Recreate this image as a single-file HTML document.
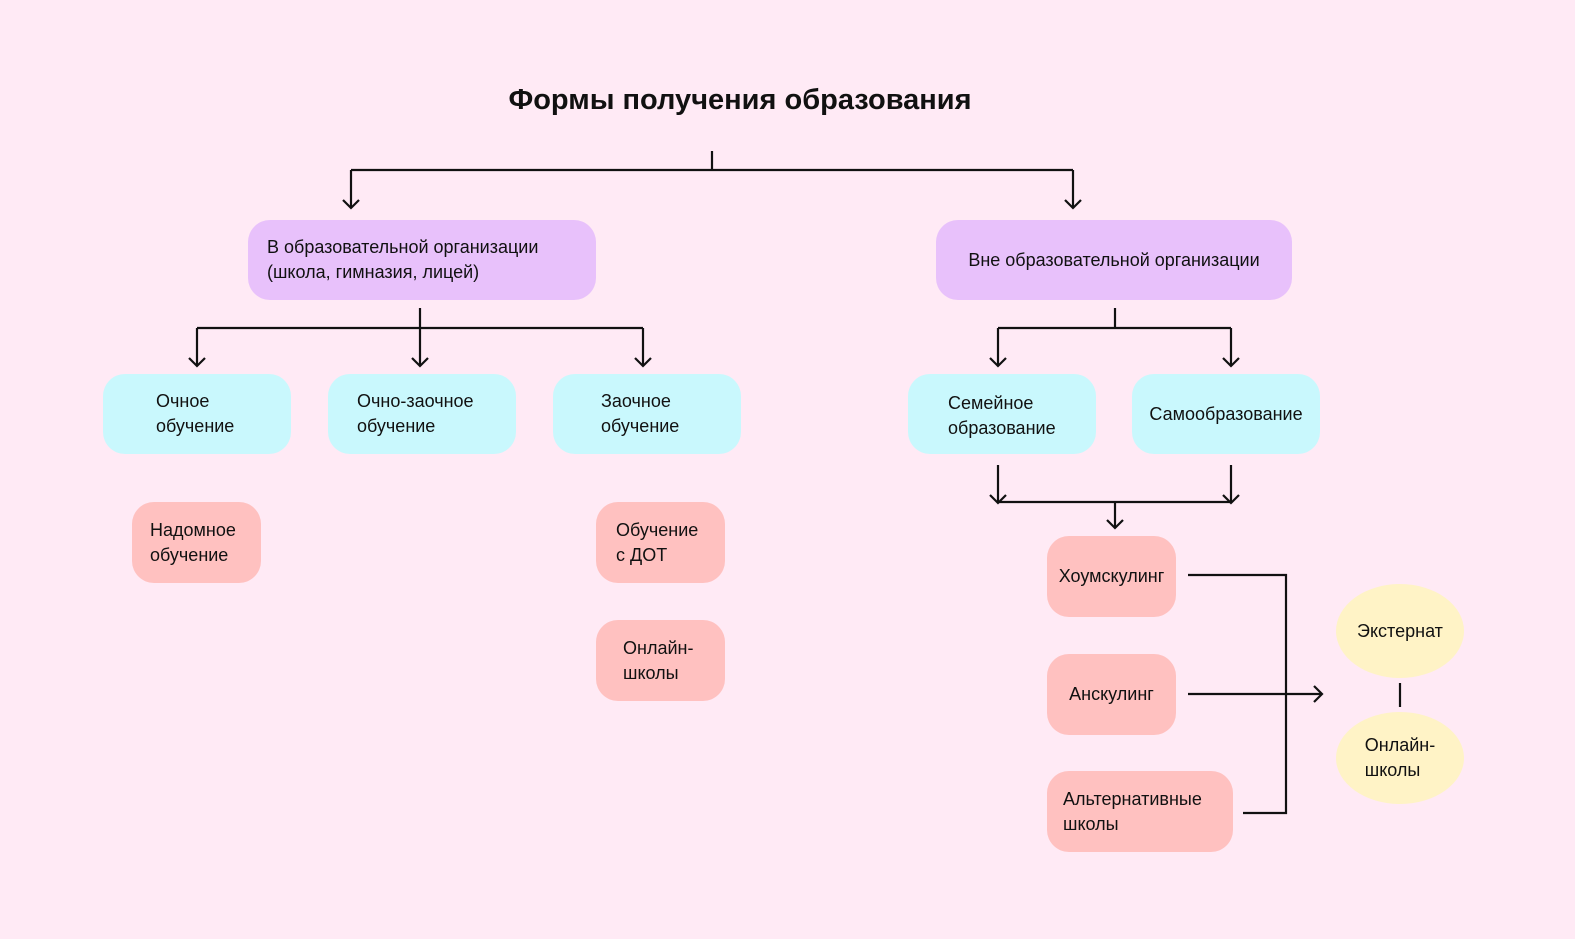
<!DOCTYPE html>
<html><head><meta charset="utf-8"><style>
body{margin:0;width:1575px;height:939px;background:#ffeaf5;position:relative;overflow:hidden;font-family:"Liberation Sans","DejaVu Sans",sans-serif;color:#111}
.b{position:absolute;border-radius:22px;font-size:18px;line-height:25px;box-sizing:border-box;display:flex;align-items:center}
.p{background:#e8c1fb}.c{background:#c9f8fd}.r{background:#ffc1c0}
.e{position:absolute;background:#fff3c6;border-radius:50%;display:flex;align-items:center;justify-content:center;font-size:18px;line-height:25px;text-align:left}
h1{position:absolute;left:0;width:1480px;text-align:center;top:84px;margin:0;font-size:29px;font-weight:bold}
svg{position:absolute;left:0;top:0}
</style></head><body>
<h1>Формы получения образования</h1>
<svg width="1575" height="939" fill="none" stroke="#111" stroke-width="2.2">
<path d="M712 151V170M351 170H1073M351 170V208M1073 170V208"/>
<path d="M420 308V366M197 328H643M197 328V366M643 328V366"/>
<path d="M1115 308V328M998 328H1231M998 328V366M1231 328V366"/>
<path d="M998 465V503M1231 465V503M998 502H1231M1115 502V528"/>
<path d="M1188 575H1286V813H1243M1188 694H1322M1400 683V707"/>
<g stroke-width="2.2">
<path d="M343 200L351 208L359 200M1065 200L1073 208L1081 200"/>
<path d="M189 358L197 366L205 358M412 358L420 366L428 358M635 358L643 366L651 358"/>
<path d="M990 358L998 366L1006 358M1223 358L1231 366L1239 358"/>
<path d="M990 495L998 503L1006 495M1223 495L1231 503L1239 495M1107 520L1115 528L1123 520"/>
<path d="M1314 686L1322 694L1314 702"/>
</g>
</svg>
<div class="b p" style="left:248px;top:220px;width:348px;height:80px;padding-left:19px">В образовательной организации<br>(школа, гимназия, лицей)</div>
<div class="b p" style="left:936px;top:220px;width:356px;height:80px;justify-content:center">Вне образовательной организации</div>
<div class="b c" style="left:103px;top:374px;width:188px;height:80px;padding-left:53px">Очное<br>обучение</div>
<div class="b c" style="left:328px;top:374px;width:188px;height:80px;padding-left:29px">Очно-заочное<br>обучение</div>
<div class="b c" style="left:553px;top:374px;width:188px;height:80px;padding-left:48px">Заочное<br>обучение</div>
<div class="b c" style="left:908px;top:374px;width:188px;height:80px;padding-left:40px;padding-top:4px">Семейное<br>образование</div>
<div class="b c" style="left:1132px;top:374px;width:188px;height:80px;justify-content:center">Самообразование</div>
<div class="b r" style="left:132px;top:502px;width:129px;height:81px;padding-left:18px">Надомное<br>обучение</div>
<div class="b r" style="left:596px;top:502px;width:129px;height:81px;padding-left:20px">Обучение<br>с ДОТ</div>
<div class="b r" style="left:596px;top:620px;width:129px;height:81px;padding-left:27px">Онлайн-<br>школы</div>
<div class="b r" style="left:1047px;top:536px;width:129px;height:81px;justify-content:center">Хоумскулинг</div>
<div class="b r" style="left:1047px;top:654px;width:129px;height:81px;justify-content:center">Анскулинг</div>
<div class="b r" style="left:1047px;top:771px;width:186px;height:81px;padding-left:16px">Альтернативные<br>школы</div>
<div class="e" style="left:1336px;top:584px;width:128px;height:94px">Экстернат</div>
<div class="e" style="left:1336px;top:712px;width:128px;height:92px">Онлайн-<br>школы</div>
</body></html>
